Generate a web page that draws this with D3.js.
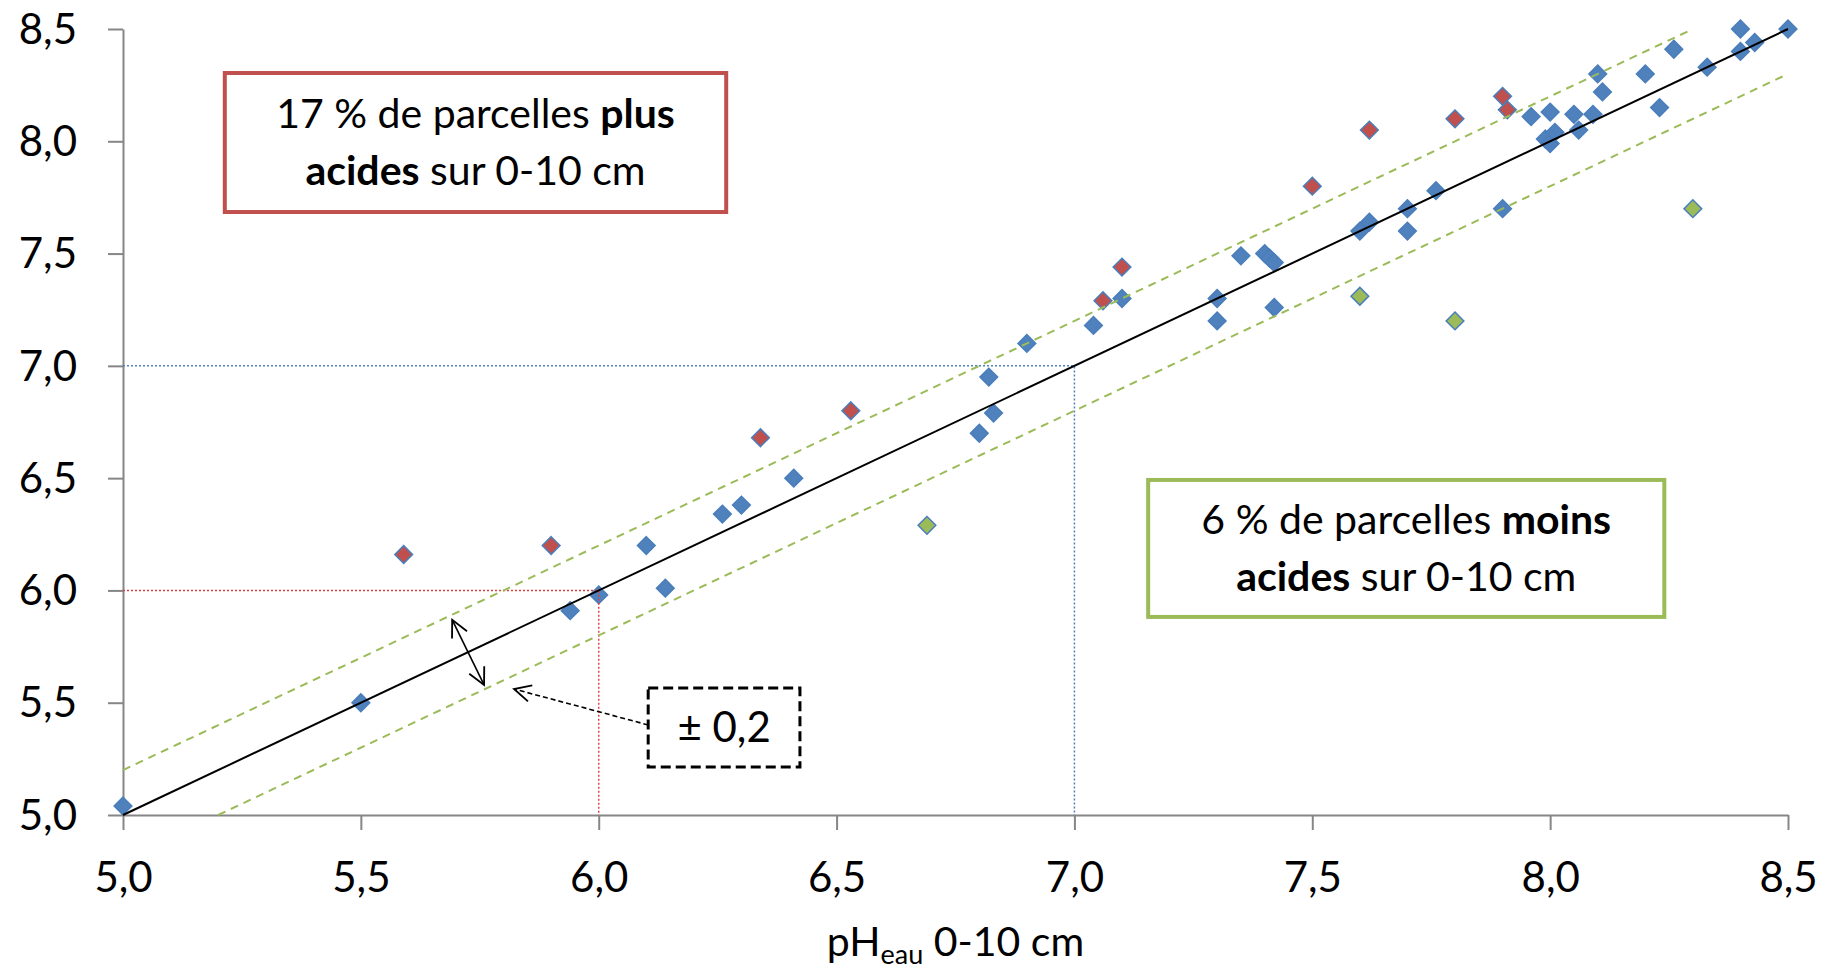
<!DOCTYPE html>
<html>
<head>
<meta charset="utf-8">
<script src="https://cdn.jsdelivr.net/npm/d3@7"></script>
<style>
  body { margin: 0; background: #fff; }
  svg { display: block; font-family: Lato, "Open Sans", sans-serif; }
</style>
</head>
<body>
<div id="chart"></div>
<script>
// pH eau 0-10 cm (x) vs pH eau (y)
var blueX = [5.00, 5.50, 5.94, 6.00, 6.10, 6.14, 6.26, 6.30, 6.41, 6.80, 6.82, 6.83, 6.90, 7.04, 7.10,
  7.30, 7.30, 7.35, 7.40, 7.41, 7.42, 7.42, 7.60, 7.62, 7.70, 7.70, 7.76, 7.90, 7.96, 8.00,
  7.99, 8.00, 8.01, 8.05, 8.06, 8.09, 8.10, 8.11, 8.20, 8.23, 8.26, 8.33, 8.40, 8.40, 8.43, 8.50];
var blueY = [5.04, 5.50, 5.91, 5.98, 6.20, 6.01, 6.34, 6.38, 6.50, 6.70, 6.95, 6.79, 7.10, 7.18, 7.30,
  7.30, 7.20, 7.49, 7.50, 7.48, 7.46, 7.26, 7.60, 7.64, 7.70, 7.60, 7.78, 7.70, 8.11, 8.13,
  8.01, 7.99, 8.04, 8.12, 8.05, 8.12, 8.30, 8.22, 8.30, 8.15, 8.41, 8.33, 8.50, 8.40, 8.44, 8.50];

// plus acides (red)
var redX = [5.59, 5.90, 6.34, 6.53, 7.06, 7.10, 7.50, 7.62, 7.80, 7.90, 7.91];
var redY = [6.16, 6.20, 6.68, 6.80, 7.29, 7.44, 7.80, 8.05, 8.10, 8.20, 8.14];

// moins acides (green)
var greenX = [6.69, 7.60, 7.80, 8.30];
var greenY = [6.29, 7.31, 7.20, 7.70];

var tickValues = [5.0, 5.5, 6.0, 6.5, 7.0, 7.5, 8.0, 8.5];
var tolerance = 0.2;

var width = 1833, height = 970;
var margin = { left: 123, right: 45, top: 29, bottom: 155 };

var svg = d3.select("#chart")
  .append("svg")
  .attr("width", width)
  .attr("height", height);

var x = d3.scaleLinear().domain([5, 8.5]).range([margin.left, width - margin.right]);
var y = d3.scaleLinear().domain([5, 8.5]).range([height - margin.bottom, margin.top]);

var fmt = function (d) { return d3.format(".1f")(d).replace(".", ","); };

// marker for the arrows (open V head)
var defs = svg.append("defs");
defs.append("marker")
  .attr("id", "vhead2")
  .attr("viewBox", "0 0 12 12")
  .attr("refX", 11).attr("refY", 6)
  .attr("markerWidth", 20).attr("markerHeight", 20)
  .attr("markerUnits", "userSpaceOnUse")
  .attr("orient", "auto-start-reverse")
  .append("path")
  .attr("d", "M1,1 L11,6 L1,11")
  .attr("fill", "none")
  .attr("stroke", "#000")
  .attr("stroke-width", 1.1);

// axes
var xAxis = svg.append("g")
  .attr("transform", "translate(0," + y(5) + ")")
  .call(d3.axisBottom(x).tickValues(tickValues).tickFormat(fmt).tickSize(15).tickSizeOuter(0));
var yAxis = svg.append("g")
  .attr("transform", "translate(" + x(5) + ",0)")
  .call(d3.axisLeft(y).tickValues(tickValues).tickFormat(fmt).tickSize(15).tickSizeOuter(0));

[xAxis, yAxis].forEach(function (g) {
  g.selectAll("path, line").attr("stroke", "#868686").attr("stroke-width", 2);
  g.selectAll("text").attr("fill", "#000").style("font-size", "42px").style("font-family", "Lato");
});
xAxis.selectAll("text").attr("y", 77).attr("dy", 0);
yAxis.selectAll("text").attr("x", -46).attr("dy", "0.34em");

// axis title
var xt = svg.append("text")
  .attr("x", (x(5) + x(8.5)) / 2)
  .attr("y", 956)
  .attr("text-anchor", "middle")
  .style("font-size", "41px")
  .attr("fill", "#000");
xt.append("tspan").text("pH");
xt.append("tspan").attr("dy", 8).style("font-size", "27px").text("eau");
xt.append("tspan").attr("dy", -8).text(" 0-10 cm");

// data points (diamonds)
var diamond = d3.symbol().type(d3.symbolDiamond2).size(200);
function drawPoints(xs, ys, fill) {
  svg.append("g")
    .selectAll("path")
    .data(xs.map(function (d, i) { return [d, ys[i]]; }))
    .enter()
    .append("path")
    .attr("d", diamond)
    .attr("transform", function (d) { return "translate(" + x(d[0]) + "," + y(d[1]) + ")"; })
    .attr("fill", fill)
    .attr("stroke", "#4A7EBB")
    .attr("stroke-width", 1.5);
}
drawPoints(blueX, blueY, "#4F81BD");
drawPoints(redX, redY, "#C0504D");
drawPoints(greenX, greenY, "#9BBB59");

// reference dotted lines (pH 6 and pH 7)
svg.append("path")
  .attr("d", d3.line()([[x(5), y(6)], [x(6), y(6)], [x(6), y(5)]]))
  .attr("fill", "none").attr("stroke", "#E0403F").attr("stroke-width", 1.5)
  .attr("stroke-dasharray", "2,2");
svg.append("path")
  .attr("d", d3.line()([[x(5), y(7)], [x(7), y(7)], [x(7), y(5)]]))
  .attr("fill", "none").attr("stroke", "#4F81BD").attr("stroke-width", 1.5)
  .attr("stroke-dasharray", "2,2");

// +/- 0.2 bands
svg.append("line")
  .attr("x1", x(5)).attr("y1", y(5 + tolerance))
  .attr("x2", x(8.5 - tolerance)).attr("y2", y(8.5))
  .attr("stroke", "#9BBB59").attr("stroke-width", 2).attr("stroke-dasharray", "8,6");
svg.append("line")
  .attr("x1", x(5 + tolerance)).attr("y1", y(5))
  .attr("x2", x(8.5)).attr("y2", y(8.5 - tolerance))
  .attr("stroke", "#9BBB59").attr("stroke-width", 2).attr("stroke-dasharray", "8,6");

// 1:1 line
svg.append("line")
  .attr("x1", x(5)).attr("y1", y(5))
  .attr("x2", x(8.5)).attr("y2", y(8.5))
  .attr("stroke", "#000").attr("stroke-width", 2);

// double arrow between the bands
svg.append("line")
  .attr("x1", x(5.692)).attr("y1", y(5.869))
  .attr("x2", x(5.759)).attr("y2", y(5.579))
  .attr("stroke", "#000").attr("stroke-width", 1.6)
  .attr("marker-start", "url(#vhead2)")
  .attr("marker-end", "url(#vhead2)");

// dashed arrow from the "± 0,2" box
svg.append("line")
  .attr("x1", x(6.104)).attr("y1", y(5.401))
  .attr("x2", x(5.822)).attr("y2", y(5.561))
  .attr("stroke", "#000").attr("stroke-width", 1.6)
  .attr("stroke-dasharray", "5,3")
  .attr("marker-end", "url(#vhead2)");

// text boxes
function textBox(x0, x1, y0, y1, stroke, dash, lines) {
  var bx = x(x0), by = y(y0), bw = x(x1) - x(x0), bh = y(y1) - y(y0);
  var g = svg.append("g");
  g.append("rect")
    .attr("x", bx).attr("y", by).attr("width", bw).attr("height", bh)
    .attr("fill", "#fff").attr("stroke", stroke)
    .attr("stroke-width", dash ? 3 : 4)
    .attr("stroke-dasharray", dash ? "10,5" : null);
  var cy = by + bh / 2;
  lines.forEach(function (parts, i) {
    var t = g.append("text")
      .attr("x", bx + bw / 2)
      .attr("y", lines.length === 1 ? cy + 15 : cy - 14.5 + i * 57)
      .attr("text-anchor", "middle")
      .style("font-size", lines.length === 1 ? "42px" : "41px")
      .attr("fill", "#000");
    parts.forEach(function (p) {
      t.append("tspan").style("font-weight", p[1] ? "bold" : "normal").text(p[0]);
    });
  });
}

textBox(5.214, 6.268, 8.304, 7.685, "#C0504D", false, [
  [["17 % de parcelles ", false], ["plus", true]],
  [["acides", true], [" sur 0-10 cm", false]]
]);
textBox(7.155, 8.240, 6.492, 5.882, "#9BBB59", false, [
  [["6 % de parcelles ", false], ["moins", true]],
  [["acides", true], [" sur 0-10 cm", false]]
]);
textBox(6.104, 6.423, 5.566, 5.214, "#000", true, [
  [["± 0,2", false]]
]);
</script>
</body>
</html>
